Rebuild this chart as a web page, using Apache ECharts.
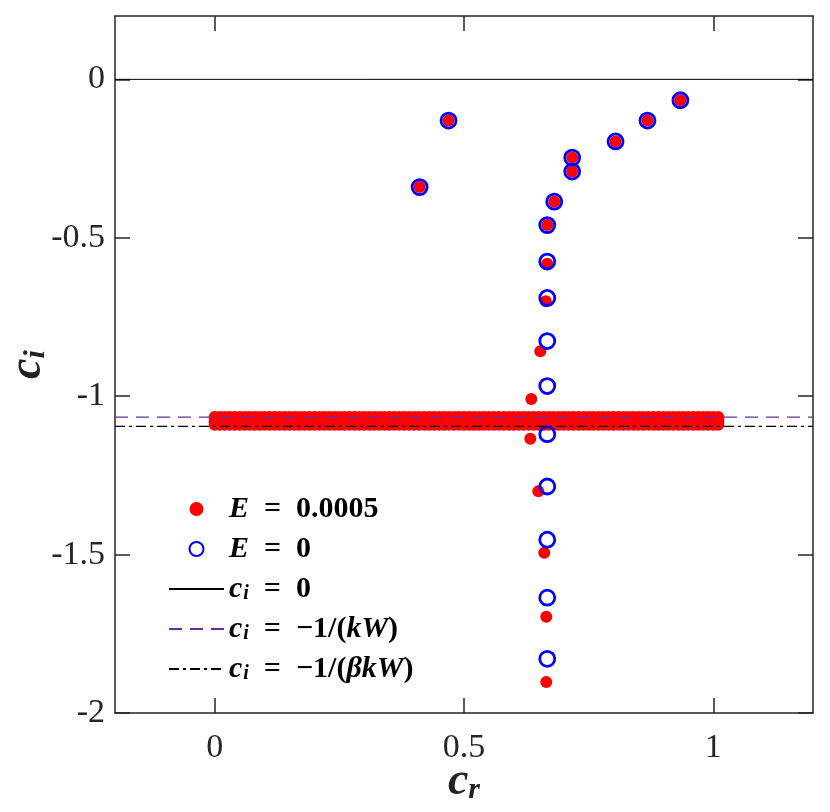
<!DOCTYPE html>
<html>
<head>
<meta charset="utf-8">
<script src="https://cdn.jsdelivr.net/npm/echarts@6/dist/echarts.min.js"></script>
<style>
  html, body { margin: 0; padding: 0; background: #fff; }
  #main { width: 830px; height: 812px; }
</style>
</head>
<body>
<div id="main"></div>
<script>
// 离散特征值 E = 0
const pointsE0 = [
  [0.411, -0.34], [0.469, -0.13], [0.681, -0.386], [0.717, -0.247], [0.717, -0.291],
  [0.804, -0.196], [0.868, -0.13], [0.934, -0.066],
  [0.667, -0.46], [0.667, -0.575], [0.667, -0.69], [0.667, -0.826], [0.667, -0.968],
  [0.667, -1.12], [0.667, -1.285], [0.667, -1.453], [0.667, -1.636], [0.667, -1.829]
];

// 离散特征值 E = 0.0005
const pointsE5 = [
  [0.411, -0.34], [0.469, -0.13], [0.681, -0.386], [0.717, -0.247], [0.717, -0.291],
  [0.804, -0.196], [0.868, -0.13], [0.934, -0.066],
  [0.667, -0.46], [0.667, -0.582], [0.664, -0.70], [0.653, -0.858], [0.635, -1.009],
  [0.633, -1.134], [0.649, -1.30], [0.661, -1.494], [0.665, -1.696], [0.665, -1.902]
];

// 连续谱 (E = 0.0005)
const bandCr = [
  0, 0.01, 0.02, 0.03, 0.04, 0.05, 0.06, 0.07, 0.08, 0.09,
  0.10, 0.11, 0.12, 0.13, 0.14, 0.15, 0.16, 0.17, 0.18, 0.19,
  0.20, 0.21, 0.22, 0.23, 0.24, 0.25, 0.26, 0.27, 0.28, 0.29,
  0.30, 0.31, 0.32, 0.33, 0.34, 0.35, 0.36, 0.37, 0.38, 0.39,
  0.40, 0.41, 0.42, 0.43, 0.44, 0.45, 0.46, 0.47, 0.48, 0.49,
  0.50, 0.51, 0.52, 0.53, 0.54, 0.55, 0.56, 0.57, 0.58, 0.59,
  0.60, 0.61, 0.62, 0.63, 0.64, 0.65, 0.66, 0.67, 0.68, 0.69,
  0.70, 0.71, 0.72, 0.73, 0.74, 0.75, 0.76, 0.77, 0.78, 0.79,
  0.80, 0.81, 0.82, 0.83, 0.84, 0.85, 0.86, 0.87, 0.88, 0.89,
  0.90, 0.91, 0.92, 0.93, 0.94, 0.95, 0.96, 0.97, 0.98, 0.99,
  1.00, 1.01
];
const bandCi = [-1.066, -1.074, -1.082, -1.09];

// 参考线
const ciZero = 0;
const ciKW = -1.066;
const ciBetaKW = -1.095;

const xTicks = [0, 0.5, 1];
const yTicks = [-2, -1.5, -1, -0.5, 0];
const xRange = [-0.2, 1.2];
const yRange = [-2, 0.2];

const bandPoints = [];
bandCi.forEach(ci => bandCr.forEach(cr => bandPoints.push([cr, ci])));

const hline = v => [[xRange[0], v], [xRange[1], v]];

const serif = 'Liberation Serif';
const mathRich = {
  it: { fontFamily: serif, fontStyle: 'italic', fontWeight: 'bold', fontSize: 30, color: '#000' },
  b: { fontFamily: serif, fontWeight: 'bold', fontSize: 30, color: '#000' },
  sub: { fontFamily: serif, fontStyle: 'italic', fontWeight: 'bold', fontSize: 20, color: '#000', padding: [10, 0, 0, 1] }
};

const legendText = {
  'E = 0.0005': '{it|E}{b|  =  0.0005}',
  'E = 0': '{it|E}{b|  =  0}',
  'ci = 0': '{it|c}{sub|i}{b|  =  0}',
  'ci = -1/(kW)': '{it|c}{sub|i}{b|  =  −1/(}{it|kW}{b|)}',
  'ci = -1/(βkW)': '{it|c}{sub|i}{b|  =  −1/(}{it|βkW}{b|)}'
};

const axisColor = '#262626';
const nameRich = {
  it: { fontFamily: serif, fontStyle: 'italic', fontWeight: 'bold', fontSize: 46, color: '#222' },
  sub: { fontFamily: serif, fontStyle: 'italic', fontWeight: 'bold', fontSize: 30, color: '#222', padding: [16, 0, 0, 0] }
};

const option = {
  animation: false,
  grid: { left: 115, right: 17, top: 16, bottom: 99, containLabel: false, outerBoundsMode: 'none' },
  xAxis: [
    {
      type: 'value', min: xRange[0], max: xRange[1], position: 'bottom',
      name: '{it|c}{sub|r}', nameLocation: 'middle', nameGap: 46, nameMoveOverlap: false,
      nameTextStyle: { rich: nameRich },
      axisLine: { show: true, onZero: false, lineStyle: { color: axisColor, width: 1.5 } },
      axisTick: { show: true, inside: true, length: 15, customValues: xTicks, lineStyle: { color: axisColor, width: 1.5 } },
      axisLabel: { show: true, customValues: xTicks, margin: 18, fontFamily: serif, fontSize: 34, color: axisColor },
      splitLine: { show: false }
    },
    {
      type: 'value', min: xRange[0], max: xRange[1], position: 'top',
      axisLine: { show: true, onZero: false, lineStyle: { color: axisColor, width: 1.5 } },
      axisTick: { show: true, inside: true, length: 15, customValues: xTicks, lineStyle: { color: axisColor, width: 1.5 } },
      axisLabel: { show: false },
      splitLine: { show: false }
    }
  ],
  yAxis: [
    {
      type: 'value', min: yRange[0], max: yRange[1], position: 'left',
      name: '{it|c}{sub|i}', nameLocation: 'middle', nameGap: 64, nameRotate: 90, nameMoveOverlap: false,
      nameTextStyle: { rich: nameRich },
      axisLine: { show: true, onZero: false, lineStyle: { color: axisColor, width: 1.5 } },
      axisTick: { show: true, inside: true, length: 15, customValues: yTicks, lineStyle: { color: axisColor, width: 1.5 } },
      axisLabel: { show: true, customValues: yTicks, margin: 10, fontFamily: serif, fontSize: 34, color: axisColor },
      splitLine: { show: false }
    },
    {
      type: 'value', min: yRange[0], max: yRange[1], position: 'right',
      axisLine: { show: true, onZero: false, lineStyle: { color: axisColor, width: 1.5 } },
      axisTick: { show: true, inside: true, length: 15, customValues: yTicks, lineStyle: { color: axisColor, width: 1.5 } },
      axisLabel: { show: false },
      splitLine: { show: false }
    }
  ],
  legend: {
    orient: 'vertical',
    left: 163,
    top: 488,
    itemWidth: 55,
    itemHeight: 14,
    itemGap: 8,
    formatter: name => legendText[name],
    textStyle: { lineHeight: 32, rich: mathRich },
    data: [
      { name: 'E = 0.0005' },
      { name: 'E = 0' },
      { name: 'ci = 0', itemStyle: { opacity: 0 } },
      { name: 'ci = -1/(kW)', itemStyle: { opacity: 0 } },
      { name: 'ci = -1/(βkW)', itemStyle: { opacity: 0 } }
    ]
  },
  series: [
    {
      name: 'E = 0.0005', type: 'scatter', symbolSize: 12,
      itemStyle: { color: '#ff0000', opacity: 1 },
      data: bandPoints.concat(pointsE5), z: 2
    },
    {
      name: 'E = 0', type: 'scatter', symbolSize: 15,
      itemStyle: { color: 'transparent', borderColor: '#0000ff', borderWidth: 2.8, opacity: 1 },
      data: pointsE0, z: 3
    },
    {
      name: 'ci = 0', type: 'line', symbol: 'none', data: hline(ciZero),
      itemStyle: { color: '#000', opacity: 0 },
      lineStyle: { color: '#000', width: 1 }, z: 4
    },
    {
      name: 'ci = -1/(kW)', type: 'line', symbol: 'none', data: hline(ciKW),
      itemStyle: { color: '#6a2c9e', opacity: 0 },
      lineStyle: { color: '#6a2c9e', width: 1.2, type: [13, 8] }, z: 4
    },
    {
      name: 'ci = -1/(βkW)', type: 'line', symbol: 'none', data: hline(ciBetaKW),
      itemStyle: { color: '#000', opacity: 0 },
      lineStyle: { color: '#000', width: 1.2, type: [10, 4, 3, 4] }, z: 4
    }
  ]
};

const chartDom = document.getElementById('main');
const myChart = echarts.init(chartDom);
myChart.setOption(option);
</script>
</body>
</html>
